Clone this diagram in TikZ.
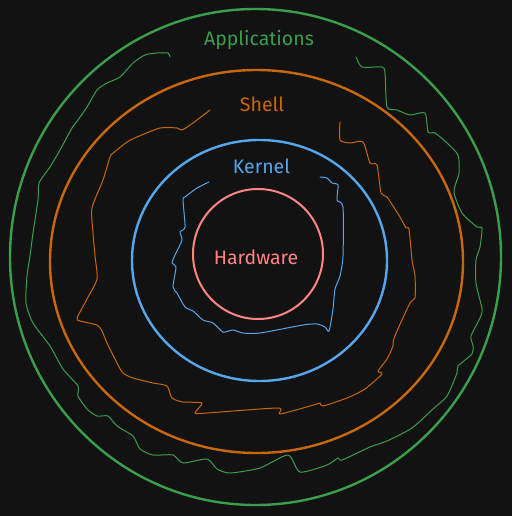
\documentclass[tikz,border=0pt]{standalone}
\usepackage{fontspec}
\setmainfont{Fira Sans}
\definecolor{bg}{HTML}{121212}
\definecolor{cgreen}{HTML}{3A9F4C}
\definecolor{corange}{HTML}{C8680A}
\definecolor{cblue}{HTML}{56A6EC}
\definecolor{cred}{HTML}{FF8585}
\tikzset{
  ring/.style={line width=2.4pt},
  wiggle/.style={line width=1pt, line join=round, line cap=round},
  lbl/.style={font=\fontsize{19.5}{22}\selectfont, inner sep=0pt}
}
\begin{document}
\begin{tikzpicture}[x=1pt,y=-1pt]
\fill[bg] (0,0) rectangle (512,516);
\useasboundingbox (0,0) rectangle (512,516);
% rings
\draw[ring,cgreen] (255.5,257) ellipse [x radius=245.5, y radius=248];
\draw[ring,corange] (256.5,261.5) ellipse [x radius=206.5, y radius=191.5];
\draw[ring,cblue] (259.5,260.5) ellipse [x radius=127.5, y radius=120.5];
\draw[ring,cred,line width=2pt] (258,254) circle [radius=65];
% green wiggle
\draw[wiggle,cgreen] plot[smooth,tension=0.4] coordinates {
 (170,57) (168,53) (157,53) (145,55) (133,63) (120,77) (107,83) (97,90)
 (87,107) (78,120) (72,128) (60,150) (50,167) (39,183) (38,200) (33,233)
 (30,256) (27,276) (26,303) (33,323) (50,346) (63,369) (78,386) (78,396)
 (87,409) (97,416) (108,416) (117,426) (133,436) (140,449) (153,455)
 (173,455) (183,463) (207,459) (217,469) (230,473) (260,468) (288,455)
 (300,472) (327,465) (338,458) (342,460) (370,447) (387,441) (412,428)
 (433,409) (447,396) (457,373) (458,366) (472,354) (473,346) (471,336)
 (480,318) (482,309) (476,283) (476,260) (480,247) (482,228) (477,227)
 (462,213) (454,192) (459,173) (458,155) (447,143) (435,133) (428,132)
 (425,113) (410,115) (397,110) (387,107) (385,73) (382,67) (362,67) (356,57)};
% orange wiggle
\draw[wiggle,corange] plot[smooth,tension=0.4] coordinates {
 (210,110) (193,123) (182,130) (177,128) (160,128) (137,137) (127,142)
 (112,154) (110,157) (103,180) (92,208) (93,233) (95,256) (97,279)
 (87,299) (77,318) (80,321) (97,325) (102,331) (107,343) (117,363)
 (123,373) (133,378) (153,383) (167,386) (172,398) (183,402) (202,403)
 (195,413) (207,413) (278,408) (280,414) (317,404) (320,403) (323,406)
 (347,398) (365,389) (382,374) (378,371) (387,359) (393,346) (393,342)
 (397,331) (410,303) (415,298) (415,276) (412,260) (409,229) (406,228)
 (400,217) (387,197) (381,193) (377,165) (370,163) (363,142) (350,143)
 (340,140) (340,122)};
% blue wiggle
\draw[wiggle,cblue] plot[smooth,tension=0.4] coordinates {
 (209,182) (197,188) (185,197) (183,200) (185,227) (180,232) (182,240)
 (175,255) (172,263) (176,267) (173,287) (177,293) (185,307) (193,311)
 (203,320) (213,323) (223,332) (233,330) (243,333) (260,333) (303,325)
 (317,324) (325,327) (329,331) (333,309) (335,289) (340,276) (343,256)
 (343,207) (337,200) (338,185) (332,183) (327,178) (320,177)};
% labels
\node[lbl,text=cgreen] (apps) at (259,40) {Applications};
\node[lbl,text=corange] (shell) at (262,104) {Shell};
\node[lbl,text=cblue] (kernel) at (261.5,166) {Kernel};
\node[lbl,text=cred] (hw) at (256,257) {Hardware};
\end{tikzpicture}
\end{document}
